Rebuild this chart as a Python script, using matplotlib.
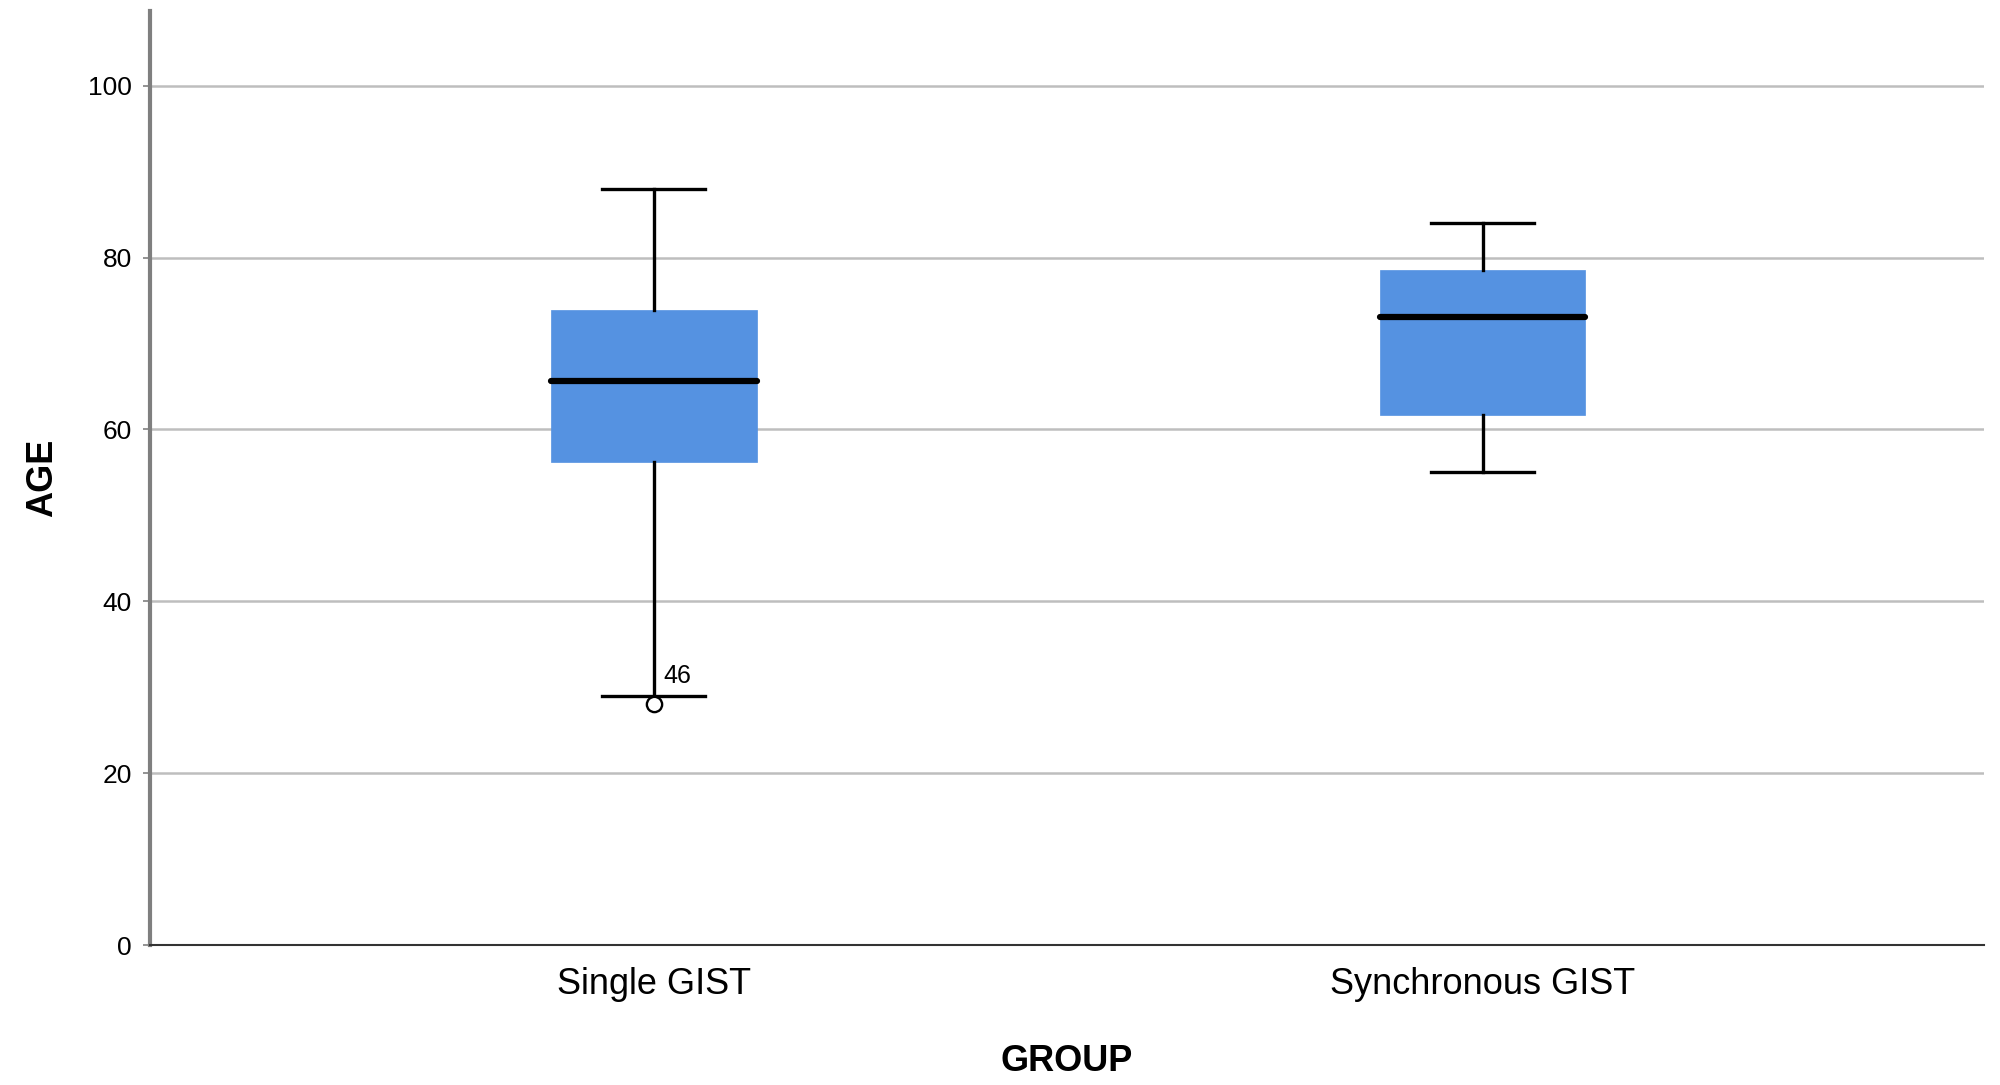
import matplotlib
matplotlib.use("Agg")
import matplotlib.pyplot as plt

categories = ["Single GIST", "Synchronous GIST"]
whisker_low = [29, 55]
q1 = [56.2, 61.7]
median = [65.6, 73.1]
q3 = [73.9, 78.5]
whisker_high = [88, 84]
outliers = [[28.1], []]
outlier_labels = [["46"], []]
y_ticks = [0, 20, 40, 60, 80, 100]

plt.rcParams['font.family'] = ['Liberation Sans', 'DejaVu Sans']

fig = plt.figure(figsize=(20, 10.85), dpi=100)
ax = fig.add_axes([0.075, 0.129, 0.917, 0.861])

positions = [1, 2]
stats = []
for i in range(len(categories)):
    stats.append(dict(whislo=whisker_low[i], q1=q1[i], med=median[i], q3=q3[i],
                      whishi=whisker_high[i], fliers=[], label=categories[i]))

ax.bxp(stats, positions=positions, widths=0.248, patch_artist=True,
       showfliers=False,
       boxprops=dict(facecolor="#5592E1", edgecolor="#5592E1", linewidth=0.5),
       medianprops=dict(color="black", linewidth=4.5, solid_capstyle="round"),
       whiskerprops=dict(color="black", linewidth=2.4),
       capprops=dict(color="black", linewidth=2.4),
       capwidths=0.124, zorder=3)

for i, pts in enumerate(outliers):
    for v, lab in zip(pts, outlier_labels[i]):
        ax.plot([positions[i]], [v], marker="o", markersize=11, markerfacecolor="white",
                markeredgecolor="black", markeredgewidth=1.7, linestyle="none", zorder=5)
        ax.annotate(lab, (positions[i], v), xytext=(7, 11), textcoords="offset points",
                    fontsize=18, ha="left", va="bottom", color="black")

ax.set_xlim(0.392, 2.605)
ax.set_ylim(0, 108.7)
ax.set_yticks(y_ticks)
ax.set_yticklabels([str(t) for t in y_ticks], fontsize=19)
ax.set_xticks(positions)
ax.set_xticklabels(categories, fontsize=26)
ax.tick_params(axis="x", length=0, pad=16)
ax.tick_params(axis="y", length=5, width=1.2, color="#808080", pad=8)

ax.yaxis.grid(True, color="#BEBEBE", linewidth=1.8, zorder=0)
ax.set_axisbelow(True)
for s in ["top", "right"]:
    ax.spines[s].set_visible(False)
ax.spines["left"].set_color("#7F7F7F")
ax.spines["left"].set_linewidth(3)
ax.spines["bottom"].set_color("#333333")
ax.spines["bottom"].set_linewidth(1.5)

ax.set_ylabel("AGE", fontsize=26, fontweight="bold", labelpad=20)
ax.set_xlabel("GROUP", fontsize=26, fontweight="bold", labelpad=30)

fig.savefig("out.png", dpi=100, facecolor="white")
